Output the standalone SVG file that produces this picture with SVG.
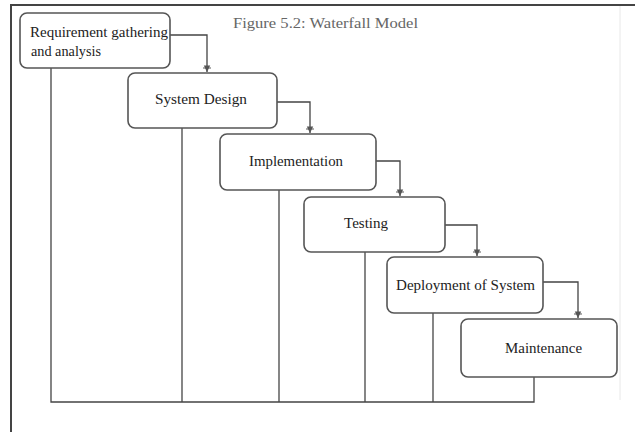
<svg xmlns="http://www.w3.org/2000/svg" width="635" height="432" viewBox="0 0 635 432">
<defs>
<style>
.box{fill:#fff;stroke:#555;stroke-width:1.6}
.lbl{font-family:"Liberation Serif",serif;font-size:14px;fill:#222}
.ln{fill:none;stroke:#444;stroke-width:1.3}
.frame{fill:none;stroke:#444;stroke-width:2}
</style>
<marker id="ah" viewBox="0 0 10 10" refX="9" refY="5" markerWidth="8" markerHeight="8" orient="auto" markerUnits="userSpaceOnUse">
<path d="M1,1 L9,5 L1,9 Z" fill="#555"/>
<path d="M4,0 L4,10" stroke="#555" stroke-width="1.2"/>
</marker>
</defs>
<rect width="635" height="432" fill="#fff"/>
<path class="frame" d="M11,432 L11,5 L635,5"/>
<line x1="620" y1="6" x2="620" y2="400" stroke="#e8e8e8" stroke-width="1"/>
<text x="233" y="28" font-family="Liberation Serif,serif" font-size="14" fill="#666" textLength="185" lengthAdjust="spacingAndGlyphs">Figure 5.2: Waterfall Model</text>
<g id="connectors">
<path class="ln" d="M170,35 H207 V72" marker-end="url(#ah)"/>
<path class="ln" d="M277,102 H310 V133" marker-end="url(#ah)"/>
<path class="ln" d="M376,161 H400 V196" marker-end="url(#ah)"/>
<path class="ln" d="M445,225 H477 V256" marker-end="url(#ah)"/>
<path class="ln" d="M543,282 H578 V318" marker-end="url(#ah)"/>
<path class="ln" d="M51,68 V402 H534 V377"/>
<path class="ln" d="M182,128 V402"/>
<path class="ln" d="M279,190 V402"/>
<path class="ln" d="M365,252 V402"/>
<path class="ln" d="M433,313 V402"/>
</g>
<g id="requirement">
<rect class="box" x="20" y="13" width="150" height="55" rx="7"/>
<text class="lbl" x="30" y="37" textLength="138" lengthAdjust="spacingAndGlyphs">Requirement gathering</text>
<text class="lbl" x="31" y="56" textLength="70" lengthAdjust="spacingAndGlyphs">and analysis</text>
</g>
<g id="design">
<rect class="box" x="128" y="73" width="149" height="55" rx="7"/>
<text class="lbl" x="155" y="104" textLength="92" lengthAdjust="spacingAndGlyphs">System Design</text>
</g>
<g id="implementation">
<rect class="box" x="220" y="134" width="156" height="56" rx="7"/>
<text class="lbl" x="249" y="166" textLength="94" lengthAdjust="spacingAndGlyphs">Implementation</text>
</g>
<g id="testing">
<rect class="box" x="304" y="197" width="141" height="55" rx="7"/>
<text class="lbl" x="344" y="228" textLength="44" lengthAdjust="spacingAndGlyphs">Testing</text>
</g>
<g id="deployment">
<rect class="box" x="387" y="257" width="156" height="56" rx="7"/>
<text class="lbl" x="396" y="290" textLength="139" lengthAdjust="spacingAndGlyphs">Deployment of System</text>
</g>
<g id="maintenance">
<rect class="box" x="461" y="319" width="156" height="58" rx="7"/>
<text class="lbl" x="505" y="353" textLength="77" lengthAdjust="spacingAndGlyphs">Maintenance</text>
</g>
</svg>
